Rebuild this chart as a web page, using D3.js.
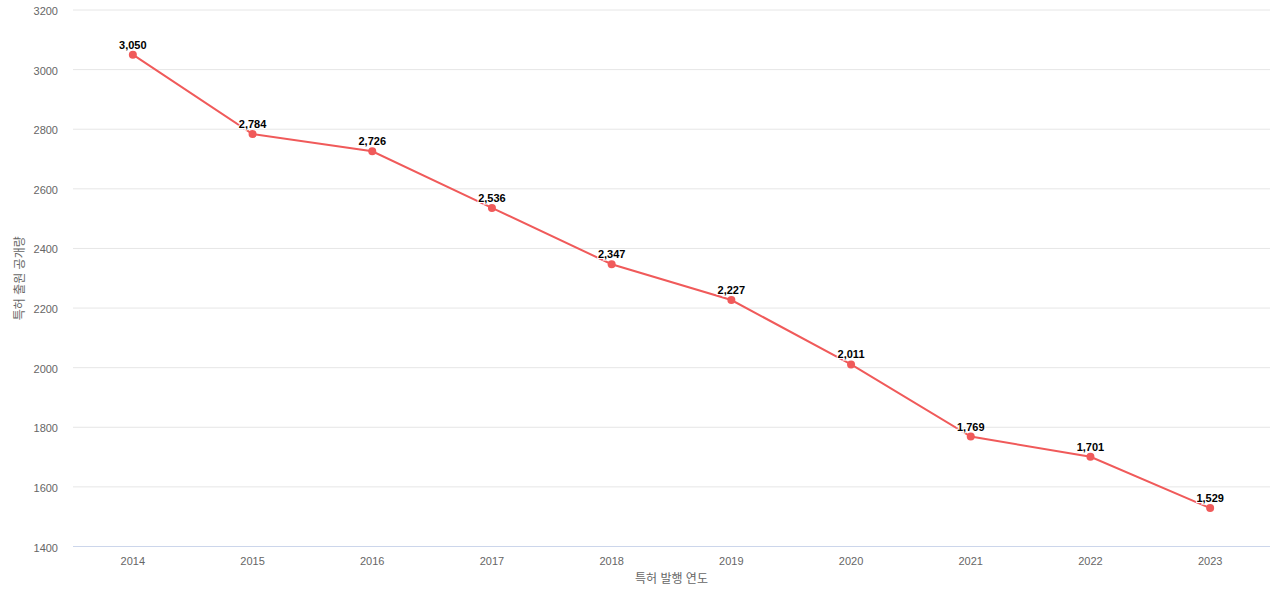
<!DOCTYPE html>
<html><head><meta charset="utf-8">
<script src="https://cdn.jsdelivr.net/npm/d3@7"></script>
<style>body{margin:0;background:#fff;font-family:"Liberation Sans",Arial,"Noto Sans CJK KR",sans-serif;}</style>
</head><body>
<svg id="c" width="1280" height="600"></svg>
<script>
const years = ["2014","2015","2016","2017","2018","2019","2020","2021","2022","2023"];
const values = [3050,2784,2726,2536,2347,2227,2011,1769,1701,1529];
const yTicks = [1400,1600,1800,2000,2200,2400,2600,2800,3000,3200];
const xTitle = "특허 발행 연도";
const yTitle = "특허 출원 공개량";

const svg = d3.select("#c");
const L=73,R=1270,T=10,B=546.5;
const x = d3.scaleBand().domain(years).range([L,R]);
const y = d3.scaleLinear().domain([1400,3200]).range([B,T]);
const font = '"Liberation Sans",Arial,"Noto Sans CJK KR",sans-serif';

svg.append("g").selectAll("line").data(yTicks.slice(1)).join("line")
  .attr("x1",L).attr("x2",R).attr("y1",d=>y(d)).attr("y2",d=>y(d))
  .attr("stroke","#e6e6e6").attr("stroke-width",1);
svg.append("line").attr("x1",L).attr("x2",R).attr("y1",B).attr("y2",B)
  .attr("stroke","#ccd6eb").attr("stroke-width",1);

svg.append("g").selectAll("text").data(yTicks).join("text")
  .attr("x",58).attr("y",d=>y(d)+5).attr("text-anchor","end")
  .attr("font-family",font).attr("font-size",11).attr("fill","#666").text(d=>d);
svg.append("g").selectAll("text").data(years).join("text")
  .attr("x",d=>x(d)+x.bandwidth()/2).attr("y",565).attr("text-anchor","middle")
  .attr("font-family",font).attr("font-size",11).attr("fill","#666").text(d=>d);

svg.append("text").attr("x",(L+R)/2).attr("y",583).attr("text-anchor","middle")
  .attr("font-family",font).attr("font-size",12).attr("fill","#666").text(xTitle);
svg.append("text").attr("transform",`translate(24,${(T+B)/2}) rotate(-90)`).attr("text-anchor","middle")
  .attr("font-family",font).attr("font-size",12).attr("fill","#666").text(yTitle);

const cx = d=>x(d)+x.bandwidth()/2;
const line = d3.line().x((d,i)=>cx(years[i])).y(d=>y(d));
svg.append("path").datum(values).attr("d",line).attr("fill","none")
  .attr("stroke","#f05a5a").attr("stroke-width",2);
svg.append("g").selectAll("circle").data(values).join("circle")
  .attr("cx",(d,i)=>cx(years[i])).attr("cy",d=>y(d)).attr("r",4).attr("fill","#f05a5a");
svg.append("g").selectAll("text").data(values).join("text")
  .attr("x",(d,i)=>cx(years[i])).attr("y",d=>y(d)-6).attr("text-anchor","middle")
  .attr("font-family",font).attr("font-size",11).attr("font-weight","bold").attr("fill","#000")
  .attr("stroke","#fff").attr("stroke-width",2).attr("paint-order","stroke")
  .text(d=>d3.format(",")(d));
</script>
</body></html>
